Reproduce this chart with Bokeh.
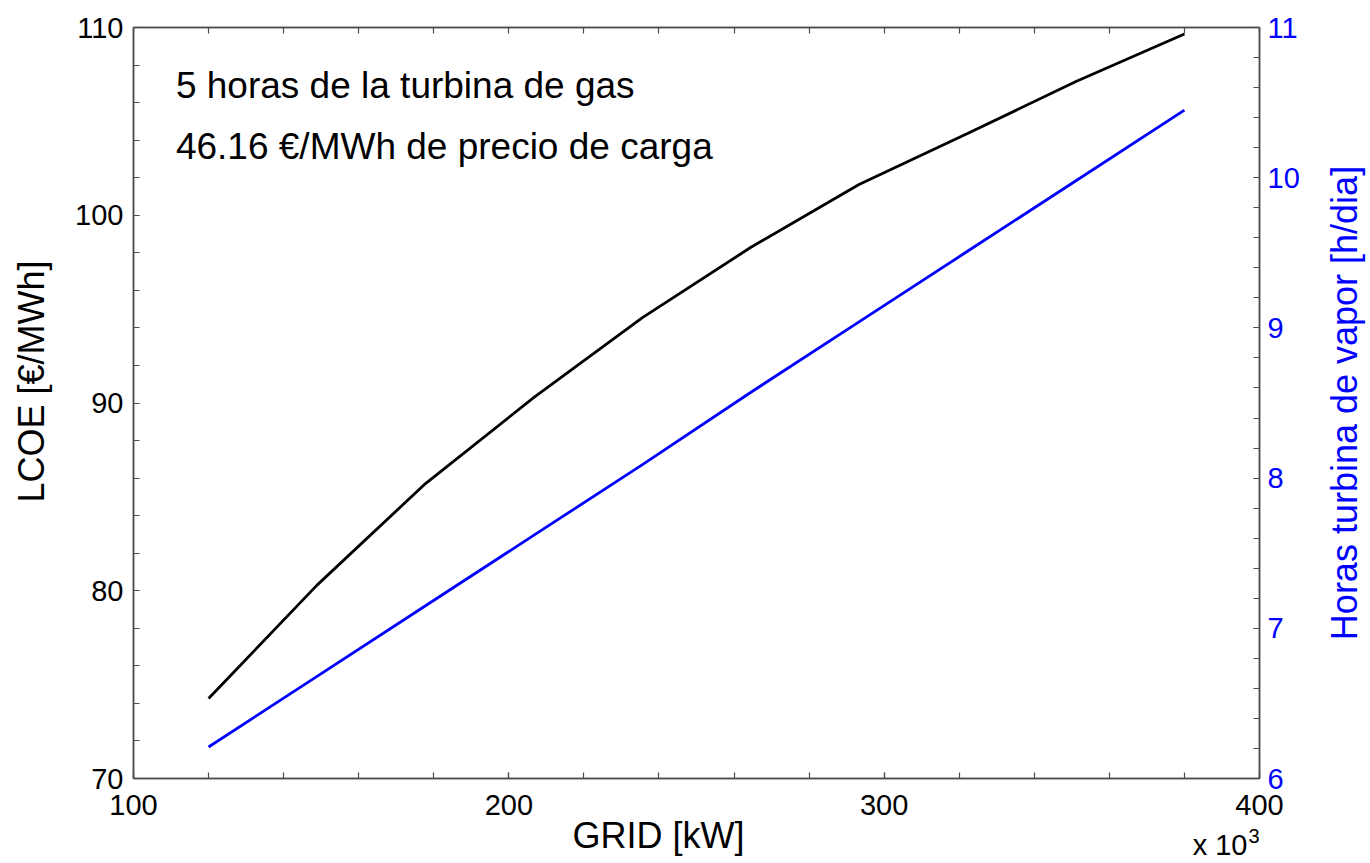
import math
from bokeh.plotting import figure
from bokeh.layouts import column, row
from bokeh.models import LinearAxis, Range1d, FixedTicker, Label
from bokeh.core.properties import value
from bokeh.embed import file_html
from bokeh.resources import INLINE

# ---- data ----
grid_kw = [120, 148.9, 177.8, 206.7, 235.6, 264.4, 293.3, 322.2, 351.1, 380]  # x 10^3
lcoe = [74.26, 80.3, 85.71, 90.3, 94.55, 98.28, 101.64, 104.35, 107.12, 109.65]
horas_vapor = [6.21, 6.68, 7.15, 7.62, 8.09, 8.57, 9.04, 9.51, 9.98, 10.45]

x_major = [100, 200, 300, 400]
x_minor = list(range(100, 401, 20))
yl_major = [70, 80, 90, 100, 110]
yl_minor = list(range(70, 111, 2))
yr_major = [6, 7, 8, 9, 10, 11]
yr_minor = [round(6 + 0.2 * i, 1) for i in range(26)]

FONT = "Liberation Sans"
AX = "#4d4d4d"
BLUE = "#0000ff"

xr = Range1d(100, 400)
p = figure(width=1260, height=826, x_range=xr, y_range=Range1d(70, 110), title=None,
           output_backend="svg", toolbar_location=None,
           min_border_left=73, min_border_right=61, min_border_top=27, min_border_bottom=48,
           background_fill_color="white", border_fill_color="white")
p.xgrid.visible = False
p.ygrid.visible = False
p.outline_line_color = AX
p.outline_line_width = 1.5

p.extra_y_ranges = {"hours": Range1d(6, 11)}


def style(ax, color="black", standoff=8):
    ax.axis_line_color = AX
    ax.axis_line_width = 1.5
    ax.major_tick_line_color = AX
    ax.minor_tick_line_color = AX
    ax.major_tick_line_width = 1.2
    ax.minor_tick_line_width = 1.2
    ax.major_tick_in = 6
    ax.major_tick_out = 0
    ax.minor_tick_in = 6
    ax.minor_tick_out = 0
    ax.major_label_text_font = FONT
    ax.major_label_text_font_size = "29px"
    ax.major_label_text_color = color
    ax.major_label_standoff = standoff


xa = p.xaxis[0]
xa.ticker = FixedTicker(ticks=x_major, minor_ticks=x_minor)
style(xa, standoff=16)

ya = p.yaxis[0]
ya.ticker = FixedTicker(ticks=yl_major, minor_ticks=yl_minor)
style(ya, standoff=10)

ra = LinearAxis(y_range_name="hours", ticker=FixedTicker(ticks=yr_major, minor_ticks=yr_minor))
style(ra, color=BLUE, standoff=8)
p.add_layout(ra, "right")

ta = LinearAxis(ticker=FixedTicker(ticks=[], minor_ticks=x_minor))
style(ta, standoff=0)
p.add_layout(ta, "above")

p.line(grid_kw, lcoe, line_color="black", line_width=2.8)
p.line(grid_kw, horas_vapor, line_color=BLUE, line_width=2.8, y_range_name="hours")

# annotations inside the plot
for yy, txt in [(106.91, "5 horas de la turbina de gas"),
                (103.66, "46.16 €/MWh de precio de carga")]:
    p.add_layout(Label(x=111.3, y=yy, text=txt,
                       text_font=FONT, text_font_size="37px", text_color="black",
                       text_baseline="alphabetic", text_align="left"))


def strip(width, height, x_range, y_range, left=0, right=0, fill="white"):
    f = figure(width=width, height=height, x_range=x_range, y_range=y_range, title=None,
               output_backend="svg", toolbar_location=None,
               x_axis_location=None, y_axis_location=None, min_border=0,
               min_border_left=left, min_border_right=right, min_border_top=0, min_border_bottom=0,
               background_fill_color=fill, border_fill_color=fill)
    f.grid.visible = False
    f.outline_line_color = None
    return f


# transparent strip overlapping the bottom margin of the main plot:
# x-axis title and scale factor
p2 = strip(1260, 57, xr, Range1d(0, 57), left=73, right=61, fill=None)
p2.margin = (-20, 0, 0, 0)
p2.text(x=[239.9], y=[28], text=["GRID [kW]"], text_font=value(FONT), text_font_size="36px",
        text_color="black", text_align="center", text_baseline="middle")
p2.text(x=[396.8], y=[18.5], text=["x 10"], text_font=value(FONT), text_font_size="29px",
        text_color="black", text_align="right", text_baseline="middle")
p2.text(x=[397.1], y=[28], text=["3"], text_font=value(FONT), text_font_size="20px",
        text_color="black", text_align="left", text_baseline="middle")

# strip at the left: left-axis title (reads bottom to top)
p4 = strip(60, 863, Range1d(0, 60), Range1d(0, 863))
p4.text(x=[31], y=[482], text=["LCOE [€/MWh]"], angle=math.pi / 2,
        text_font=value(FONT), text_font_size="36px", text_color="black",
        text_align="center", text_baseline="middle")

# strip at the right: right-axis title (reads bottom to top)
p3 = strip(50, 863, Range1d(0, 50), Range1d(0, 863))
p3.text(x=[24], y=[460.5], text=["Horas turbina de vapor [h/dia]"], angle=math.pi / 2,
        text_font=value(FONT), text_font_size="36px", text_color=BLUE,
        text_align="center", text_baseline="middle")

layout = row(p4, column(p, p2, spacing=0), p3, spacing=0)
open("out.html", "w").write(file_html(layout, INLINE))
